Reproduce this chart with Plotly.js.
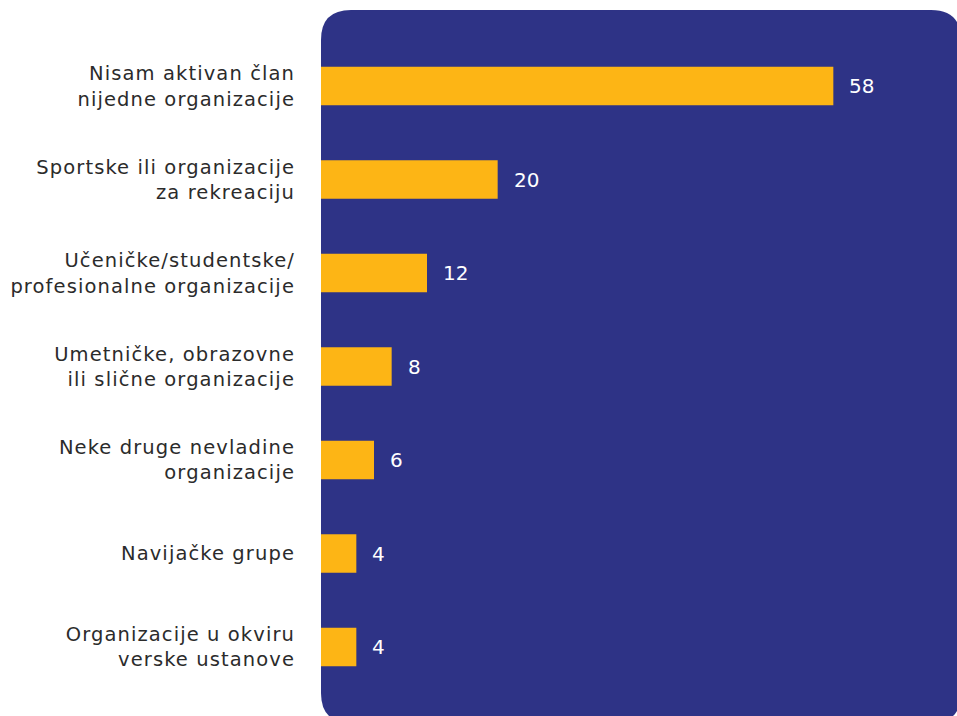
<!DOCTYPE html>
<html>
<head>
<meta charset="utf-8">
<script src="https://cdn.plot.ly/plotly-3.0.1.min.js"></script>
<style>html,body{margin:0;padding:0;background:#fff;}#chart{width:957px;height:716px;}
.ytick text{letter-spacing:1.1px;}</style>
</head>
<body>
<div id="chart"></div>
<script>
const categories = [
  "Nisam aktivan član<br>nijedne organizacije",
  "Sportske ili organizacije<br>za rekreaciju",
  "Učeničke/studentske/<br>profesionalne organizacije",
  "Umetničke, obrazovne<br>ili slične organizacije",
  "Neke druge nevladine<br>organizacije",
  "Navijačke grupe",
  "Organizacije u okviru<br>verske ustanove"
];
const values = [58, 20, 12, 8, 6, 4, 4];
const valueLabels = ["58", "20", "12", "8", "6", "4", "4"];

const W = 636, H = 706, r = 30;
const rx = r / W, ry = r / H;
const L = 0, R = 1 + 4 / W, B = -7 / H, T = 1;
const panelPath = `M ${L + rx},${T} L ${R - rx},${T} Q ${R},${T} ${R},${T - ry} L ${R},${B + ry} Q ${R},${B} ${R - rx},${B} L ${L + rx},${B} Q ${L},${B} ${L},${B + ry} L ${L},${T - ry} Q ${L},${T} ${L + rx},${T} Z`;

const trace = {
  type: 'bar',
  orientation: 'h',
  y: categories,
  x: values,
  width: 0.41,
  marker: {color: '#FDB515'},
  hoverinfo: 'none'
};

const annotations = categories.map((c, i) => ({
  x: values[i], y: c, xref: 'x', yref: 'y',
  text: valueLabels[i], showarrow: false,
  xanchor: 'left', xshift: 14,
  font: {family: '"DejaVu Sans", sans-serif', size: 20, color: '#ffffff'}
}));

const layout = {
  width: 957, height: 716,
  margin: {l: 321, r: 0, t: 10, b: 0, pad: 0},
  paper_bgcolor: '#ffffff',
  plot_bgcolor: 'rgba(0,0,0,0)',
  showlegend: false,
  xaxis: {range: [0, 72], visible: false, fixedrange: true},
  yaxis: {
    type: 'category',
    range: [6.738, -0.813],
    showgrid: false, zeroline: false, showline: false,
    ticks: '', ticklabelstandoff: 25,
    tickfont: {family: '"DejaVu Sans", sans-serif', size: 19.5, color: '#2b2b2b'}
  },
  shapes: [{
    type: 'path', xref: 'paper', yref: 'paper', path: panelPath,
    fillcolor: '#2E3386', line: {width: 0}, layer: 'below'
  }],
  annotations: annotations
};

Plotly.newPlot('chart', [trace], layout, {displayModeBar: false, staticPlot: true});
</script>
</body>
</html>
